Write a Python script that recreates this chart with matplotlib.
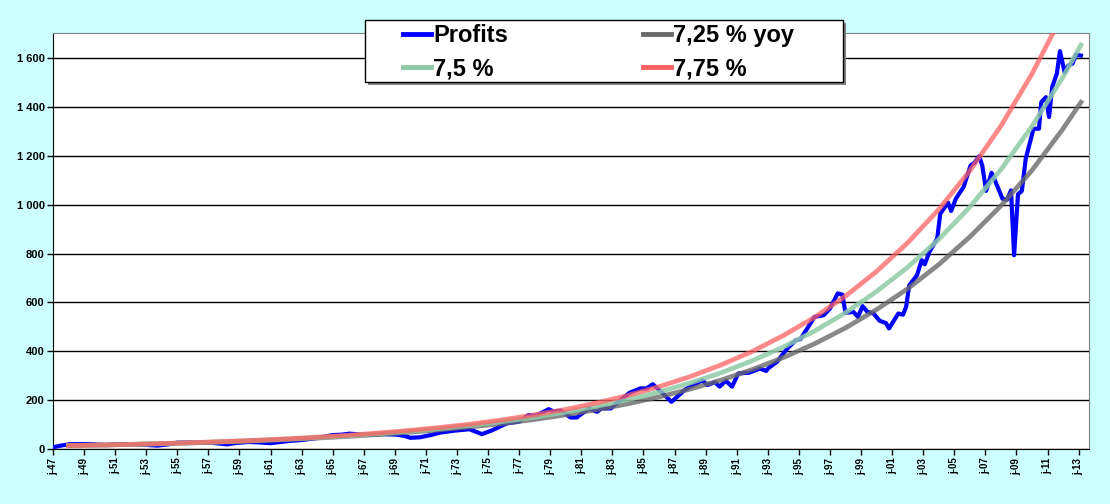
import matplotlib
matplotlib.use('Agg')
import matplotlib.pyplot as plt
from matplotlib.patches import Rectangle

plt.rcParams['font.family'] = ['Liberation Sans', 'DejaVu Sans']

# Profits (decimal year, value)
profit_years = [1947.0, 1947.5, 1948.1, 1949.0, 1949.6, 1950.4, 1951.1, 1952.0, 1952.8, 1953.7,
                1954.4, 1955.0, 1955.8, 1956.5, 1957.3, 1958.2, 1958.8, 1959.6, 1960.3, 1961.0,
                1961.7, 1962.2, 1963.0, 1964.0, 1965.0, 1965.6, 1966.1, 1966.8, 1967.5, 1968.2,
                1969.1, 1969.6, 1970.0, 1970.6, 1971.3, 1971.9, 1972.8, 1973.8, 1974.6, 1975.2,
                1976.2, 1977.0, 1977.6, 1978.1, 1978.9, 1979.2, 1979.7, 1980.3, 1980.7, 1981.5,
                1982.0, 1982.3, 1982.9, 1983.5, 1984.1, 1984.8, 1985.2, 1985.6, 1986.2, 1986.8,
                1987.7, 1988.4, 1988.8, 1989.1, 1989.6, 1989.9, 1990.3, 1990.7, 1991.1, 1991.8,
                1992.5, 1992.9, 1993.0, 1993.6, 1994.2, 1994.8, 1995.1, 1995.6, 1996.0, 1996.6,
                1997.0, 1997.5, 1997.8, 1998.0, 1998.5, 1998.8, 1999.1, 1999.4, 1999.8, 2000.2,
                2000.6, 2000.8, 2001.4, 2001.7, 2001.9, 2002.1, 2002.6, 2002.9, 2003.1, 2003.4,
                2003.9, 2004.1, 2004.6, 2004.8, 2005.1, 2005.6, 2006.05, 2006.3, 2006.6, 2006.8,
                2007.05, 2007.4, 2007.7, 2008.1, 2008.4, 2008.65, 2008.85, 2009.1, 2009.35, 2009.6,
                2010.1, 2010.45, 2010.6, 2010.9, 2011.1, 2011.3, 2011.6, 2011.8, 2012.1, 2012.35,
                2012.6, 2012.85, 2013.15]
profit_values = [8, 15, 21, 21, 21, 17, 21, 20, 19, 15,
                 20, 27, 28, 27, 26, 20, 26, 30, 28, 25,
                 30, 34, 38, 46, 58, 60, 64, 60, 59, 62,
                 60, 55, 47, 49, 58, 68, 76, 82, 62, 76,
                 106, 113, 140, 138, 164, 155, 158, 130, 130, 167,
                 153, 167, 167, 200, 231, 249, 249, 266, 231, 194,
                 245, 269, 282, 262, 274, 256, 280, 256, 310, 313,
                 330, 320, 330, 358, 408, 446, 450, 500, 541, 548,
                 575, 637, 632, 557, 562, 541, 585, 562, 555, 525,
                 516, 494, 555, 550, 582, 670, 711, 773, 756, 807,
                 861, 963, 1008, 974, 1024, 1072, 1160, 1171, 1198, 1160,
                 1056, 1130, 1086, 1024, 1020, 1058, 793, 1042, 1056, 1188,
                 1310, 1310, 1419, 1439, 1358, 1480, 1535, 1627, 1541, 1569,
                 1576, 1613, 1609]

# trend curves, read every two years
curve_years = [1948, 1950, 1952, 1954, 1956, 1958, 1960, 1962, 1964, 1966, 1968,
               1970, 1972, 1974, 1976, 1978, 1980, 1982, 1984, 1986, 1988, 1990,
               1992, 1994, 1996, 1998, 2000, 2002, 2004, 2006, 2008, 2010, 2012, 2013.15]
curve_725 = [15, 17.3, 19.8, 22.8, 26.2, 30.2, 34.7, 39.9, 45.9, 52.8, 60.8,
             69.9, 80.4, 92.5, 106, 122, 141, 162, 186, 214, 246, 283,
             326, 375, 431, 496, 571, 656, 755, 868, 995, 1140, 1310, 1418]
curve_75 = [15, 17.3, 20.0, 23.2, 26.8, 30.9, 35.8, 41.3, 47.8, 55.2, 63.8,
            73.7, 85.2, 98.5, 114, 131, 152, 176, 203, 234, 271, 313,
            362, 418, 483, 558, 645, 744, 858, 990, 1143, 1320, 1522, 1652]
curve_775 = [15, 17.4, 20.2, 23.5, 27.3, 31.6, 36.7, 42.6, 49.5, 57.5, 66.7,
             77.5, 89.9, 104, 121, 141, 163, 190, 220, 256, 297, 345,
             400, 465, 539, 626, 727, 844, 980, 1138, 1321, 1534, 1781, 1941]

tick_years = list(range(1947, 2014, 2))
tick_labels = ['j-%02d' % (y % 100) for y in tick_years]

fig = plt.figure(figsize=(11.1, 5.04), dpi=100, facecolor='#ccffff')
ax = fig.add_axes([53 / 1110, 1 - 449.3 / 504, (1089 - 53) / 1110, (449.3 - 33.3) / 504])
ax.set_facecolor('white')

ax.plot(profit_years, profit_values, color='#0000ff', lw=3.0, label='Profits', zorder=3)
ax.plot(curve_years, curve_725, color='#6a6a6a', lw=3.4, alpha=0.8, label='7,25 % yoy', zorder=4)
ax.plot(curve_years, curve_75, color='#8ecaa6', lw=3.4, alpha=0.85, label='7,5 %', zorder=5)
ax.plot(curve_years, curve_775, color='#ff6060', lw=3.4, alpha=0.75, label='7,75 %', zorder=6)

ax.set_xlim(1947, 2013.67)
ax.set_ylim(0, 1700)
ax.set_yticks(range(0, 1700, 200))
ax.set_yticklabels([f'{v:,}'.replace(',', ' ') for v in range(0, 1700, 200)],
                   fontsize=8, fontweight='bold')
ax.set_xticks(tick_years)
ax.set_xticklabels(tick_labels, rotation=90, fontsize=7, fontweight='bold')
ax.tick_params(axis='both', direction='out', length=4, width=1, color='black', pad=2)
ax.yaxis.grid(True, color='black', lw=1)
ax.set_axisbelow(True)

for s in ['top', 'right']:
    ax.spines[s].set_color('#808080')
for s in ['left', 'bottom']:
    ax.spines[s].set_color('black')

# legend box with drop shadow
W, H = 1110, 504
fig.patches.append(Rectangle((368 / W, 1 - 85 / H), 478 / W, 62 / H, transform=fig.transFigure,
                             facecolor='#808080', edgecolor='none', zorder=3))
fig.patches.append(Rectangle((365 / W, 1 - 82 / H), 478 / W, 62 / H, transform=fig.transFigure,
                             facecolor='white', edgecolor='black', lw=1, zorder=4))

h, l = ax.get_legend_handles_labels()
order = [0, 2, 1, 3]
leg = fig.legend([h[i] for i in order], [l[i] for i in order], ncol=2,
                 loc='upper left', bbox_to_anchor=(403 / W, 1 - 24 / H),
                 prop={'size': 17, 'weight': 'bold'}, frameon=False, borderaxespad=0,
                 handlelength=1.2, handletextpad=0.08, columnspacing=5.72,
                 labelspacing=0.45, borderpad=0)
leg.set_zorder(5)
for line in leg.get_lines():
    line.set_linewidth(3.5)
    line.set_alpha(1)

fig.savefig('out.png', dpi=100, facecolor=fig.get_facecolor())
